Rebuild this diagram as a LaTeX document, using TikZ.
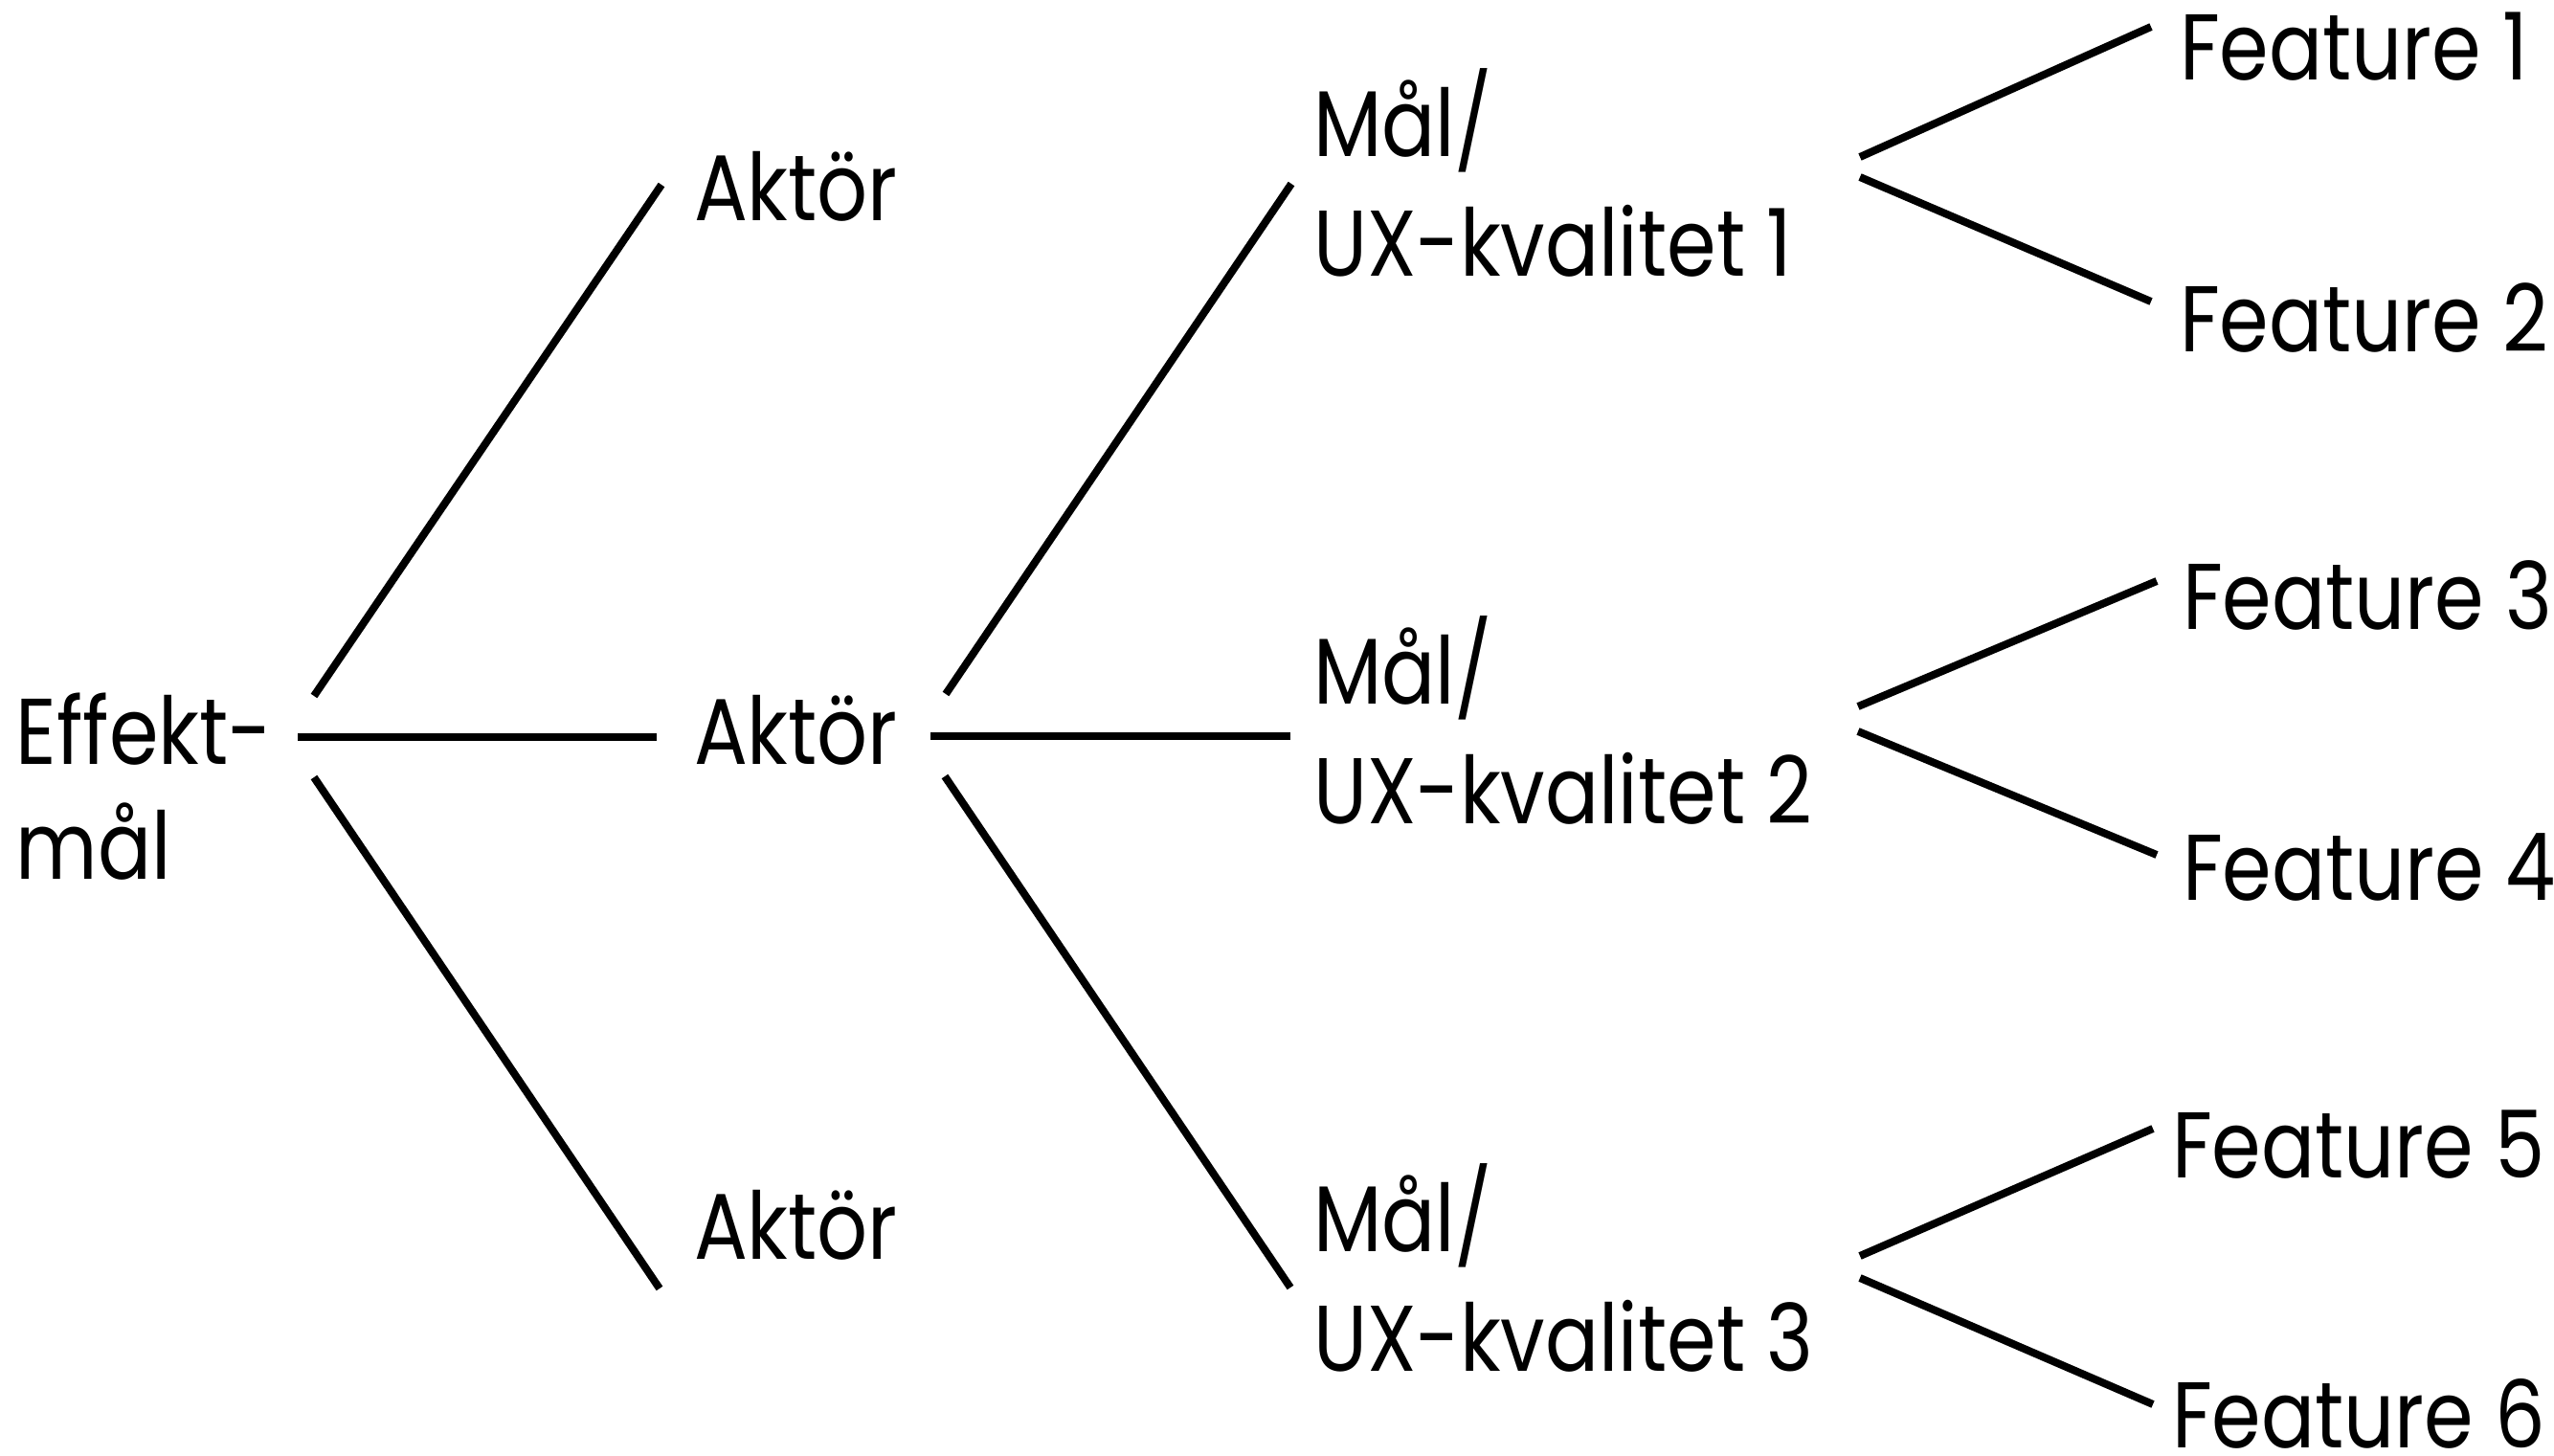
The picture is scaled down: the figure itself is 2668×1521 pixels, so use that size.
\documentclass[tikz,border=0pt]{standalone}
\usepackage{fontspec}
\setmainfont[FakeStretch=0.85]{Poppins}
\usetikzlibrary{calc}

\tikzset{
  label/.style={anchor=base west, inner sep=0pt, outer sep=0pt, align=left,
    font=\fontsize{48.8}{62.5}\selectfont},
  branch/.style={line width=4pt, line cap=butt},
}

\begin{document}
\begin{tikzpicture}[x=0.5pt, y=-0.5pt]
  % canvas
  \useasboundingbox (0,0) rectangle (2668,1521);

  % root (two lines; base anchor sits on the last line)
  \node[label, font=\fontsize{48.8}{60}\selectfont] (eff) at (17,918) {Effekt-\\mål};

  % actors
  \node[label] (a1) at (725,230)  {Aktör};
  \node[label] (a2) at (725,798)  {Aktör};
  \node[label] (a3) at (725,1315) {Aktör};

  % goals / UX qualities
  \node[label] (m1) at (1372,288)  {Mål/\\UX-kvalitet 1};
  \node[label] (m2) at (1372,860)  {Mål/\\UX-kvalitet 2};
  \node[label] (m3) at (1372,1432) {Mål/\\UX-kvalitet 3};

  % features
  \node[label] (f1) at (2277,83)   {Feature 1};
  \node[label] (f2) at (2277,367)  {Feature 2};
  \node[label] (f3) at (2280,657)  {Feature 3};
  \node[label] (f4) at (2280,940)  {Feature 4};
  \node[label] (f5) at (2269,1230) {Feature 5};
  \node[label] (f6) at (2269,1512) {Feature 6};

  % root -> actors
  \draw[branch] ($(eff.base west)+(311,-191)$) -- ($(a1.base west)+(-34,-37)$);
  \draw[branch] ($(eff.base west)+(294,-148)$) -- ($(a2.base west)+(-39,-28)$);
  \draw[branch] ($(eff.base west)+(311,-106)$) -- ($(a3.base west)+(-36,31)$);

  % middle actor -> goals
  \draw[branch] ($(a2.base west)+(263,-73)$) -- ($(m1.base west)+(-23,-96)$);
  \draw[branch] ($(a2.base west)+(247,-29)$) -- ($(m2.base west)+(-24,-91)$);
  \draw[branch] ($(a2.base west)+(262,13)$)  -- ($(m3.base west)+(-24,-87)$);

  % goals -> features
  \draw[branch] ($(m1.base west)+(571,-124)$) -- ($(f1.base west)+(-30,-55)$);
  \draw[branch] ($(m1.base west)+(571,-103)$) -- ($(f2.base west)+(-30,-52)$);
  \draw[branch] ($(m2.base west)+(569,-122)$) -- ($(f3.base west)+(-27,-50)$);
  \draw[branch] ($(m2.base west)+(569,-96)$)  -- ($(f4.base west)+(-27,-47)$);
  \draw[branch] ($(m3.base west)+(571,-120)$) -- ($(f5.base west)+(-20,-51)$);
  \draw[branch] ($(m3.base west)+(571,-97)$)  -- ($(f6.base west)+(-20,-45)$);
\end{tikzpicture}
\end{document}
